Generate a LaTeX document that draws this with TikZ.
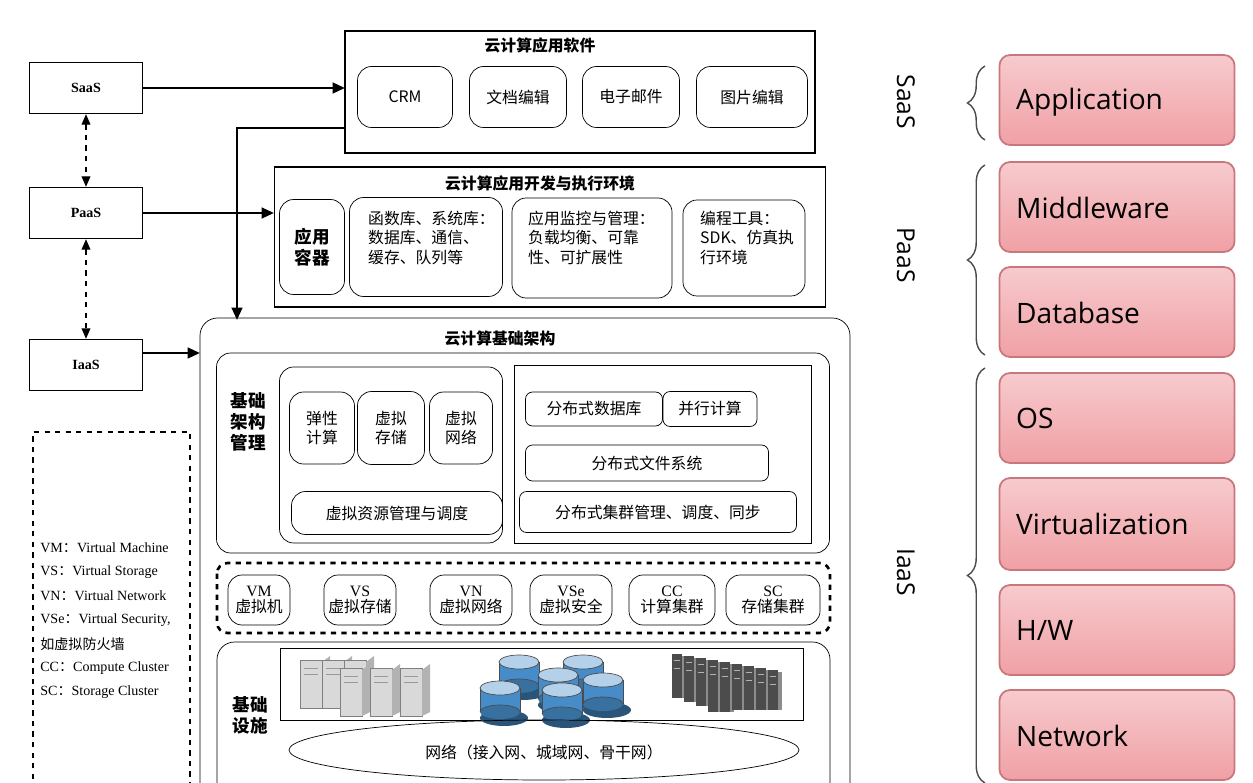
\documentclass[tikz,border=0pt]{standalone}
\usepackage{fontspec}
\setmainfont{Liberation Serif}
\newfontfamily\cjk{Noto Sans CJK SC}
\newfontfamily\rsans{Open Sans}
\usetikzlibrary{arrows.meta,decorations.pathreplacing}
\definecolor{pinkf}{RGB}{240,160,165}
\definecolor{pinkd}{RGB}{200,120,125}
\definecolor{cylb}{RGB}{70,140,200}
\newcommand{\mycyl}[2]{%
  \fill[cylb!60!black] (#1+4,#2+30) ellipse (24 and 8);
  \fill[cylb] (#1-20,#2) rectangle (#1+20,#2+24);
  \fill[cylb!80!black] (#1,#2+24) ellipse (20 and 7);
  \draw[black!70] (#1-20,#2) -- (#1-20,#2+24) (#1+20,#2) -- (#1+20,#2+24);
  \draw[black!70] (#1-20,#2+24) arc (180:360:20 and 7);
  \fill[cylb!40!white,draw=black!70] (#1,#2) ellipse (20 and 7);}
\newcommand{\myserver}[2]{%
  \fill[black!15,draw=black!50] (#1,#2) rectangle (#1+22,#2+48);
  \fill[black!30] (#1+22,#2+2) -- (#1+30,#2-4) -- (#1+30,#2+44) -- (#1+22,#2+48) -- cycle;
  \draw[black!40] (#1+4,#2+8) -- (#1+18,#2+8) (#1+4,#2+14) -- (#1+18,#2+14);}
\newcommand{\myrack}[3]{%
  \fill[black!70] (#1,#2) rectangle (#1+10,#2+#3);
  \fill[black!45] (#1+10,#2+2) rectangle (#1+14,#2+#3);
  \draw[white!70!black] (#1+2,#2+6) -- (#1+8,#2+6) (#1+2,#2+14) -- (#1+8,#2+14);}
\newcommand{\cc}{{\cjk ：}}
\begin{document}
\begin{tikzpicture}[x=0.02cm,y=-0.02cm,
  box/.style={draw,thick,inner sep=0pt},
  rbox/.style={draw,rounded corners=8pt,inner sep=0pt},
  lbl/.style={font=\cjk\fontsize{9}{11}\selectfont,align=left},
  ctr/.style={font=\cjk\fontsize{9}{11}\selectfont,align=center},
  ttl/.style={font=\cjk\bfseries\fontsize{9}{11}\selectfont},
  arr/.style={-{Triangle[length=7pt,width=6pt]},line width=1.4pt},
  pk/.style={draw=pinkd,top color=pinkf!55!white,bottom color=pinkf,rounded corners=6pt,line width=1pt,inner sep=0pt},
  pkt/.style={font=\rsans\fontsize{16}{18}\selectfont,anchor=west},
  brace/.style={decorate,decoration={brace,amplitude=10pt},thick,black!70}]
\useasboundingbox (0,0) rectangle (1253,783);
% left boxes
\node[box,minimum width=113*0.02cm,minimum height=51*0.02cm,font=\bfseries\fontsize{8}{10}\selectfont] (saas) at (86,88) {SaaS};
\node[box,minimum width=113*0.02cm,minimum height=51*0.02cm,font=\bfseries\fontsize{8}{10}\selectfont] (paas) at (86,213) {PaaS};
\node[box,minimum width=113*0.02cm,minimum height=51*0.02cm,font=\bfseries\fontsize{8}{10}\selectfont] (iaas) at (86,365) {IaaS};
\draw[{Triangle[length=6pt,width=5pt]}-{Triangle[length=6pt,width=5pt]},thick,dashed] (saas) -- (paas);
\draw[{Triangle[length=6pt,width=5pt]}-{Triangle[length=6pt,width=5pt]},thick,dashed] (paas) -- (iaas);
% app software
\node[box,minimum width=470*0.02cm,minimum height=122*0.02cm] (app) at (580,92) {};
\node[ttl] at (540,45) {云计算应用软件};
\node[rbox,ctr,minimum width=95*0.02cm,minimum height=61*0.02cm] at (405,97) {CRM};
\node[rbox,ctr,minimum width=97*0.02cm,minimum height=61*0.02cm] at (518,97) {文档编辑};
\node[rbox,ctr,minimum width=97*0.02cm,minimum height=61*0.02cm] at (631,97) {电子邮件};
\node[rbox,ctr,minimum width=111*0.02cm,minimum height=61*0.02cm] at (752,97) {图片编辑};
\coordinate (sa) at (345,88);
\draw[arr] (saas.east) -- (sa);
% paas env
\node[box,minimum width=551*0.02cm,minimum height=140*0.02cm] (env) at (550,237) {};
\node[ttl] at (540,183) {云计算应用开发与执行环境};
\node[rbox,font=\cjk\bfseries\fontsize{10}{12}\selectfont,align=center,minimum width=65*0.02cm,minimum height=95*0.02cm] at (312,247) {应用\\容器};
\node[rbox,minimum width=153*0.02cm,minimum height=99*0.02cm] at (426,247) {};
\node[lbl,anchor=north west] at (362,205) {函数库、系统库：\\数据库、通信、\\缓存、队列等};
\node[rbox,minimum width=160*0.02cm,minimum height=100*0.02cm] at (592,248) {};
\node[lbl,anchor=north west] at (522,205) {应用监控与管理：\\负载均衡、可靠\\性、可扩展性};
\node[rbox,minimum width=122*0.02cm,minimum height=96*0.02cm] at (744,248) {};
\node[lbl,anchor=north west] at (694,205) {编程工具：\\SDK、仿真执\\行环境};
\coordinate (pa) at (274,213);
\draw[arr] (paas.east) -- (pa);
% infra
\draw[rounded corners=10pt] (200,800) -- (200,318) -- (850,318) -- (850,800);
\node[ttl] at (500,338) {云计算基础架构};
\coordinate (ia) at (200,353);
\draw[arr] (iaas.east |- ia) -- (ia);
\coordinate (ap) at (345,128);
\coordinate (it) at (237,320);
\draw[arr] (ap) -| (it);
\node[rbox,minimum width=613*0.02cm,minimum height=200*0.02cm] at (523,453) {};
\node[font=\cjk\bfseries\fontsize{10}{12}\selectfont,align=center] at (248,422) {基础\\架构\\管理};
\node[rbox,minimum width=223*0.02cm,minimum height=176*0.02cm] at (391,455) {};
\node[rbox,ctr,minimum width=65*0.02cm,minimum height=72*0.02cm] at (322,428) {弹性\\计算};
\node[rbox,ctr,minimum width=67*0.02cm,minimum height=73*0.02cm] at (391,428) {虚拟\\存储};
\node[rbox,ctr,minimum width=63*0.02cm,minimum height=72*0.02cm] at (461,428) {虚拟\\网络};
\node[rbox,ctr,minimum width=211*0.02cm,minimum height=43*0.02cm] at (397,513) {虚拟资源管理与调度};
\node[box,thin,minimum width=297*0.02cm,minimum height=178*0.02cm] at (663,454) {};
\node[rbox,rounded corners=4pt,ctr,minimum width=137*0.02cm,minimum height=34*0.02cm] at (594,409) {分布式数据库};
\node[rbox,rounded corners=4pt,ctr,minimum width=94*0.02cm,minimum height=35*0.02cm] at (710,409) {并行计算};
\node[rbox,rounded corners=4pt,ctr,minimum width=243*0.02cm,minimum height=36*0.02cm] at (647,463) {分布式文件系统};
\node[rbox,rounded corners=4pt,ctr,minimum width=277*0.02cm,minimum height=41*0.02cm] at (658,512) {分布式集群管理、调度、同步};
% dashed virtual row
\draw[dashed,line width=1.5pt,rounded corners=6pt] (217,563) rectangle (830,633);
\node[rbox,ctr,minimum width=62*0.02cm,minimum height=50*0.02cm] at (259,600) {\rmfamily VM\\[-2pt]虚拟机};
\node[rbox,ctr,minimum width=72*0.02cm,minimum height=50*0.02cm] at (360,600) {\rmfamily VS\\[-2pt]虚拟存储};
\node[rbox,ctr,minimum width=82*0.02cm,minimum height=50*0.02cm] at (471,600) {\rmfamily VN\\[-2pt]虚拟网络};
\node[rbox,ctr,minimum width=82*0.02cm,minimum height=50*0.02cm] at (571,600) {\rmfamily VSe\\[-2pt]虚拟安全};
\node[rbox,ctr,minimum width=86*0.02cm,minimum height=50*0.02cm] at (672,600) {\rmfamily CC\\[-2pt]计算集群};
\node[rbox,ctr,minimum width=94*0.02cm,minimum height=50*0.02cm] at (773,600) {\rmfamily SC\\[-2pt]存储集群};
% base facility
\draw[rounded corners=10pt] (217,800) -- (217,642) -- (830,642) -- (830,800);
\node[font=\cjk\bfseries\fontsize{10}{12}\selectfont,align=center] at (250,715) {基础\\设施};
\draw (280,648) rectangle (803,720);
\foreach \i in {0,1,2} {\myserver{300+\i*22}{660}}
\foreach \i in {0,1,2} {\myserver{340+\i*30}{668}}
\mycyl{519}{662}\mycyl{583}{662}\mycyl{558}{675}\mycyl{603}{680}\mycyl{500}{688}\mycyl{562}{690}
\foreach \i/\h in {0/44,1/46,2/48,3/52,4/50,5/46,6/44,7/42,8/40} {\myrack{672+\i*12}{654+\i*2}{\h}}
\draw (544,750) ellipse (255 and 30);
\node[ctr] at (544,752) {网络（接入网、城域网、骨干网）};
% legend
\draw[dashed,line width=1.5pt] (33,800) -- (33,432) -- (190,432) -- (190,800);
\foreach \t [count=\k] in {VM\cc Virtual Machine,VS\cc Virtual Storage,VN\cc Virtual Network,{VSe\cc Virtual Security,},{\cjk 如虚拟防火墙},CC\cc Compute Cluster,SC\cc Storage Cluster}
  \node[anchor=west,font=\rmfamily\fontsize{8}{10}\selectfont,inner sep=0pt] at (40,524+24*\k) {\t};
% right stack
\node[pk,minimum width=235*0.02cm,minimum height=90*0.02cm] (p1) at (1117,100) {};
\node[pkt] at (1010,102) {Application};
\node[pk,minimum width=235*0.02cm,minimum height=90*0.02cm] (p2) at (1117,207) {};
\node[pkt] at (1010,208) {Middleware};
\node[pk,minimum width=235*0.02cm,minimum height=90*0.02cm] (p3) at (1117,312) {};
\node[pkt] at (1010,313) {Database};
\node[pk,minimum width=235*0.02cm,minimum height=90*0.02cm] (p4) at (1117,418) {};
\node[pkt] at (1010,418) {OS};
\node[pk,minimum width=235*0.02cm,minimum height=92*0.02cm] (p5) at (1117,524) {};
\node[pkt] at (1010,524) {Virtualization};
\node[pk,minimum width=235*0.02cm,minimum height=90*0.02cm] (p6) at (1117,630) {};
\node[pkt] at (1010,630) {H/W};
\node[pk,minimum width=235*0.02cm,minimum height=90*0.02cm] (p7) at (1117,735) {};
\node[pkt] at (1010,736) {Network};
\node[font=\rsans\fontsize{14}{16}\selectfont,rotate=-90] at (906,102) {SaaS};
\node[font=\rsans\fontsize{14}{16}\selectfont,rotate=-90] at (906,255) {PaaS};
\node[font=\rsans\fontsize{14}{16}\selectfont,rotate=-90] at (906,572) {IaaS};
\draw[brace] (985,140) -- (985,66);
\draw[brace] (985,355) -- (985,165);
\draw[brace] (985,783) -- (985,368);
\end{tikzpicture}
\end{document}
